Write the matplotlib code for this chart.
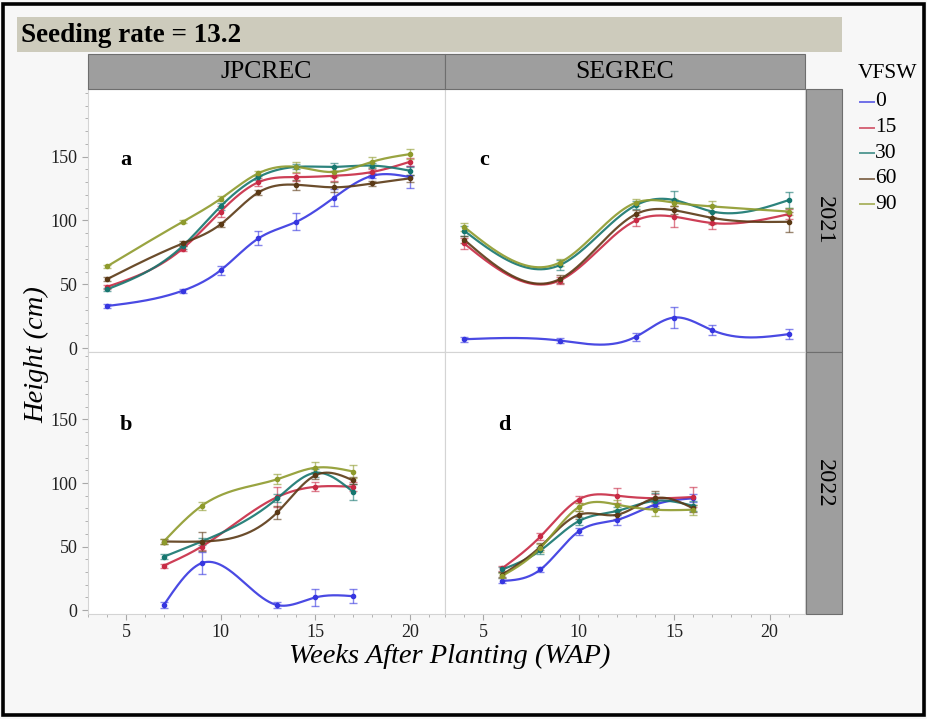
import numpy as np
import matplotlib
matplotlib.use("Agg")
import matplotlib.pyplot as plt
from matplotlib.patches import Rectangle
from matplotlib.lines import Line2D
from matplotlib.ticker import MultipleLocator

plt.rcParams['font.family'] = ['Liberation Serif', 'DejaVu Serif']

# ---- data: plant height (cm) by weeks after planting ----
groups = ["0", "15", "30", "60", "90"]
colors = ["#3636e0", "#c82a44", "#16766f", "#5b3915", "#8e9a2c"]

weeks_a = [4, 8, 10, 12, 14, 16, 18, 20]          # JPCREC 2021
height_a = [
    [33, 45, 61, 86, 99, 118, 135, 134],
    [48, 78, 107, 130, 134, 135, 138, 146],
    [46, 80, 111, 134, 142, 142, 143, 139],
    [54, 82, 97, 122, 128, 126, 129, 133],
    [64, 99, 117, 137, 142, 138, 146, 152],
]
err_a = [
    [1.5, 1.5, 3.5, 5.5, 6.5, 6.5, 2, 8.5],
    [1.5, 2, 4, 3, 3, 4, 2, 3],
    [1.5, 2, 3, 2, 2, 3, 2, 3],
    [1.5, 2, 2, 2, 4, 4, 2, 3],
    [1, 1, 2, 2, 4, 4, 4, 4],
]

weeks_b = [7, 9, 13, 15, 17]                      # JPCREC 2022
height_b = [
    [4, 37, 4, 10, 11],
    [35, 50, 89, 97, 97],
    [42, 54, 88, 108, 93],
    [54, 54, 77, 106, 102],
    [54, 82, 103, 112, 109],
]
err_b = [
    [2.5, 8.5, 2.5, 7, 5.5],
    [1.5, 3, 8, 3.5, 3.5],
    [2, 3, 3, 3, 6.5],
    [2, 7.5, 5, 3, 3],
    [2, 3, 4, 4.5, 5],
]

weeks_c = [4, 9, 13, 15, 17, 21]                  # SEGREC 2021
height_c = [
    [7, 6, 9, 24, 14, 11],
    [82, 53, 100, 103, 98, 105],
    [92, 65, 112, 116, 107, 116],
    [85, 54, 105, 108, 102, 99],
    [95, 67, 114, 114, 111, 107],
]
err_c = [
    [2, 2, 3, 8, 4, 4],
    [4, 3, 4, 8, 5, 4],
    [4, 4, 3, 7, 5, 6.5],
    [3, 3, 3, 3, 5, 8],
    [3, 3, 3, 3, 4, 3],
]

weeks_d = [6, 8, 10, 12, 14, 16]                  # SEGREC 2022
height_d = [
    [23, 32, 62, 71, 83, 88],
    [33, 58, 87, 90, 88, 89],
    [32, 47, 70, 78, 86, 82],
    [28, 50, 75, 75, 88, 80],
    [27, 49, 81, 83, 79, 79],
]
err_d = [
    [2, 2, 3, 4, 3, 3],
    [2, 3, 3, 6, 3, 7.5],
    [2, 3, 3, 3, 6, 4],
    [2, 3, 3, 3, 6, 3],
    [2, 3, 3, 4, 5, 4],
]

sites = ["JPCREC", "SEGREC"]
years = ["2021", "2022"]
panel_letters = ["a", "c", "b", "d"]
x_ticks = [5, 10, 15, 20]
y_ticks = [0, 50, 100, 150]


def natural_spline(x, y, n=300):
    """Smooth curve through the points using a natural cubic spline."""
    x = np.asarray(x, float)
    y = np.asarray(y, float)
    k = len(x)
    h = np.diff(x)
    A = np.zeros((k, k))
    r = np.zeros(k)
    A[0, 0] = A[-1, -1] = 1.0
    for i in range(1, k - 1):
        A[i, i - 1] = h[i - 1]
        A[i, i] = 2 * (h[i - 1] + h[i])
        A[i, i + 1] = h[i]
        r[i] = 6 * ((y[i + 1] - y[i]) / h[i] - (y[i] - y[i - 1]) / h[i - 1])
    m = np.linalg.solve(A, r)
    xs = np.linspace(x[0], x[-1], n)
    idx = np.clip(np.searchsorted(x, xs) - 1, 0, k - 2)
    x0, x1 = x[idx], x[idx + 1]
    hh = x1 - x0
    t0 = x1 - xs
    t1 = xs - x0
    ys = (m[idx] * t0 ** 3 / (6 * hh) + m[idx + 1] * t1 ** 3 / (6 * hh)
          + (y[idx] / hh - m[idx] * hh / 6) * t0
          + (y[idx + 1] / hh - m[idx + 1] * hh / 6) * t1)
    return xs, ys


W, H = 927, 719
fig = plt.figure(figsize=(W / 100, H / 100), dpi=100)
fig.patch.set_facecolor("#f7f7f7")


def px_rect(x0, y0, x1, y1):
    return [x0 / W, 1 - y1 / H, (x1 - x0) / W, (y1 - y0) / H]


def fig_rect(x0, y0, x1, y1, **kw):
    fig.add_artist(Rectangle((x0 / W, 1 - y1 / H), (x1 - x0) / W, (y1 - y0) / H,
                             transform=fig.transFigure, **kw))


# outer frame and title bar
fig_rect(3, 4, 924, 715, facecolor="none", edgecolor="black", linewidth=2.6, zorder=10)
fig_rect(17, 17, 842, 52, facecolor="#cdcbbc", edgecolor="none")
fig.text(21 / W, 1 - 35 / H, "Seeding rate = 13.2", fontsize=19.5, fontweight="bold",
         va="center", ha="left")

# column headers
col_x = [(88, 445), (445, 805)]
for (x0, x1), name in zip(col_x, sites):
    fig_rect(x0, 54, x1, 89, facecolor="#9e9e9e", edgecolor="#6e6e6e", linewidth=0.8)
    fig.text((x0 + x1) / 2 / W, 1 - 72 / H, name, fontsize=18.5, ha="center", va="center")

# row strips
row_y = [(89, 352), (352, 614)]
for (y0, y1), yr in zip(row_y, years):
    fig_rect(806, y0, 842, y1, facecolor="#9e9e9e", edgecolor="#6e6e6e", linewidth=0.8)
    fig.text(824 / W, 1 - (y0 + y1) / 2 / H, yr, fontsize=17.5, ha="center", va="center",
             rotation=270)

panels = [
    (weeks_a, height_a, err_a),
    (weeks_c, height_c, err_c),
    (weeks_b, height_b, err_b),
    (weeks_d, height_d, err_d),
]

for p, (wk, hts, errs) in enumerate(panels):
    r, c = divmod(p, 2)
    x0, x1 = col_x[c]
    y0, y1 = row_y[r]
    ax = fig.add_axes(px_rect(x0, y0, x1, y1))
    ax.set_facecolor("white")
    ax.set_xlim(3, 21.85)
    ax.set_ylim(-3, 203)
    for s in ax.spines.values():
        s.set_color("#d4d4d4")
        s.set_linewidth(0.8)
    for g in range(len(groups)):
        col = colors[g]
        xs, ys = natural_spline(wk, hts[g])
        ax.plot(xs, ys, color=col, linewidth=1.6, alpha=0.9, zorder=3)
        ax.errorbar(wk, hts[g], yerr=errs[g], fmt="none", ecolor=col, alpha=0.6,
                    elinewidth=1.0, capsize=3, capthick=1.0, zorder=2)
        ax.plot(wk, hts[g], "o", color=col, markersize=3.0, zorder=4)
    ax.xaxis.set_major_locator(MultipleLocator(5))
    ax.xaxis.set_minor_locator(MultipleLocator(1))
    ax.yaxis.set_major_locator(MultipleLocator(50))
    ax.yaxis.set_minor_locator(MultipleLocator(10))
    ax.set_xticks(x_ticks)
    ax.set_yticks(y_ticks)
    ax.tick_params(which="both", color="#a8a8a8", direction="out", labelsize=13,
                   labelcolor="#222222")
    ax.tick_params(which="major", length=4)
    ax.tick_params(which="minor", length=2.5)
    if c == 1:
        ax.tick_params(axis="y", which="both", left=False, labelleft=False)
    if r == 0:
        ax.tick_params(axis="x", which="both", bottom=False, labelbottom=False)
    ax.text(0.105 if c == 0 else (0.11 if r == 0 else 0.165), 0.73 if r == 0 else 0.72,
            panel_letters[p], transform=ax.transAxes, fontsize=16, fontweight="bold",
            ha="center", va="center")

fig.text(450 / W, 1 - 656 / H, "Weeks After Planting (WAP)", fontsize=20.5, style="italic",
         ha="center", va="center")
fig.text(37 / W, 1 - 355 / H, "Height (cm)", fontsize=20.5, style="italic",
         ha="center", va="center", rotation=90)

# legend
fig.text(858 / W, 1 - 73 / H, "VFSW", fontsize=15.5, ha="left", va="center")
for i, (g, col) in enumerate(zip(groups, colors)):
    yy = 1 - (102 + i * 25.6) / H
    fig.add_artist(Line2D([860 / W, 874 / W], [yy, yy], color=col, alpha=0.7,
                          linewidth=1.4, transform=fig.transFigure))
    fig.text(875 / W, yy, g, fontsize=15.5, ha="left", va="center")

fig.savefig("out.png", dpi=100, facecolor=fig.get_facecolor())
